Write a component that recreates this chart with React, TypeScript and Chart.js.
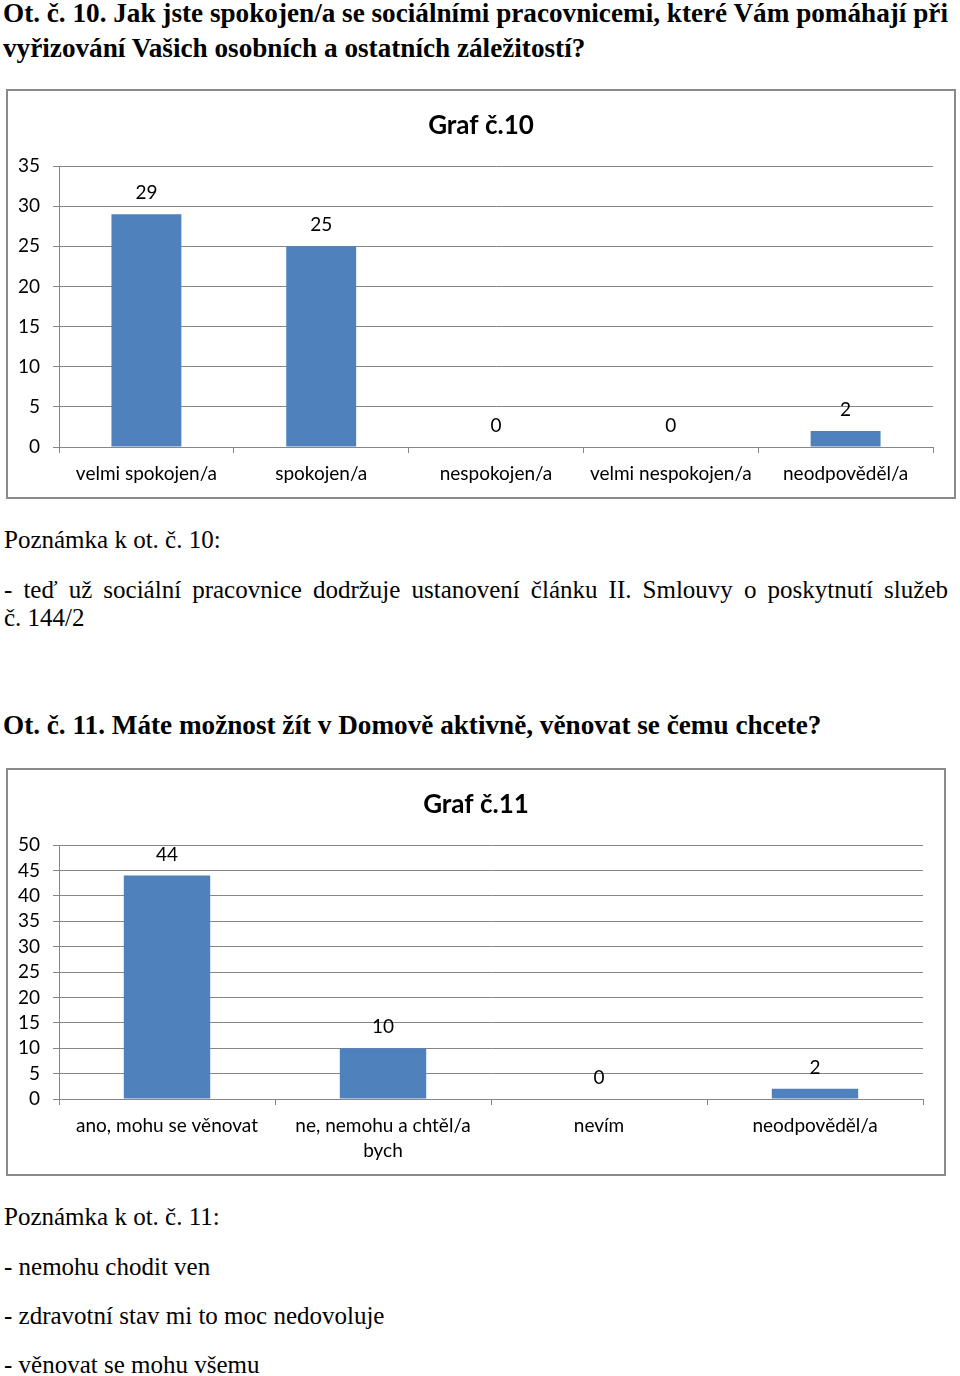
import React, { useEffect, useRef } from 'react';
import { Chart, registerables } from 'chart.js';

Chart.register(...registerables);

// ---- Data ----
const categories10: (string | string[])[] = [
  'velmi spokojen/a',
  'spokojen/a',
  'nespokojen/a',
  'velmi nespokojen/a',
  'neodpověděl/a',
];
const values10 = [29, 25, 0, 0, 2];
const yMax10 = 35;

const categories11: (string | string[])[] = [
  'ano, mohu se věnovat',
  ['ne, nemohu a chtěl/a', 'bych'],
  'nevím',
  'neodpověděl/a',
];
const values11 = [44, 10, 0, 2];
const yMax11 = 50;

const yStep = 5;

const BAR = '#4F81BD';
const GRID = '#868686';
const SANS = 'Lato, "Noto Sans", sans-serif';
const SERIF = '"Liberation Serif", "Times New Roman", serif';

const valueLabels = {
  id: 'valueLabels',
  afterDatasetsDraw(chart: any) {
    const ctx = chart.ctx;
    const meta = chart.getDatasetMeta(0);
    const data = chart.data.datasets[0].data;
    ctx.save();
    ctx.font = '19px ' + SANS;
    ctx.fillStyle = '#000';
    ctx.textAlign = 'center';
    ctx.textBaseline = 'middle';
    meta.data.forEach((bar: any, i: number) => {
      ctx.fillText(String(data[i]), bar.x, bar.y - 21);
    });
    ctx.restore();
  },
};

type BarProps = {
  left: number;
  top: number;
  width: number;
  height: number;
  title: string;
  labels: (string | string[])[];
  values: number[];
  max: number;
  yWidth: number;
  rightWidth: number;
  xHeight: number;
};

function BarChart(p: BarProps) {
  const ref = useRef<HTMLCanvasElement | null>(null);
  useEffect(() => {
    if (!ref.current) return;
    const chart = new Chart(ref.current, {
      type: 'bar',
      data: {
        labels: p.labels,
        datasets: [
          {
            data: p.values,
            backgroundColor: BAR,
            borderWidth: 0,
            barPercentage: 0.4,
            categoryPercentage: 1,
            yAxisID: 'y',
          },
        ],
      },
      options: {
        responsive: false,
        animation: false,
        devicePixelRatio: 1,
        layout: { padding: 0 },
        plugins: {
          legend: { display: false },
          tooltip: { enabled: false },
          title: {
            display: true,
            text: p.title,
            color: '#000',
            font: { family: SANS, size: 26, weight: 'bold', lineHeight: 1.2 },
            padding: { top: 21.4, bottom: 24.4 },
          },
        },
        scales: {
          x: {
            grid: {
              display: true,
              drawOnChartArea: false,
              drawTicks: true,
              tickLength: 6,
              color: GRID,
              offset: true,
            },
            border: { display: true, color: GRID, width: 1 },
            ticks: {
              color: '#000',
              font: { family: SANS, size: 19, lineHeight: 1.32 },
              padding: 8,
              maxRotation: 0,
              autoSkip: false,
            },
            afterFit(scale: any) {
              scale.height = p.xHeight;
            },
          },
          y: {
            min: 0,
            max: p.max,
            grid: { color: GRID, tickLength: 6, drawTicks: true },
            border: { display: true, color: GRID, width: 1 },
            ticks: {
              stepSize: yStep,
              autoSkip: false,
              color: '#000',
              font: { family: SANS, size: 19 },
              padding: 13,
            },
            afterFit(scale: any) {
              scale.width = p.yWidth;
            },
          },
          yR: {
            type: 'linear',
            position: 'right',
            display: true,
            grid: { display: false },
            border: { display: false },
            ticks: { display: false },
            afterFit(scale: any) {
              scale.width = p.rightWidth;
            },
          },
        },
      },
      plugins: [valueLabels],
    } as any);
    return () => chart.destroy();
  }, []);
  return (
    <>
      <canvas
        ref={ref}
        width={p.width}
        height={p.height}
        style={{ position: 'absolute', left: p.left, top: p.top, width: p.width, height: p.height }}
      />
      <div
        style={{
          position: 'absolute',
          left: p.left,
          top: p.top,
          width: p.width,
          height: p.height,
          boxSizing: 'border-box',
          border: '2px solid #8a8a8a',
          pointerEvents: 'none',
        }}
      />
    </>
  );
}

function Line(props: { top: number; left?: number; size: number; bold?: boolean; justify?: boolean; children: React.ReactNode }) {
  const style: React.CSSProperties = {
    position: 'absolute',
    top: props.top,
    left: props.left ?? 4,
    fontFamily: SERIF,
    fontSize: props.size,
    lineHeight: props.size + 'px',
    fontWeight: props.bold ? 'bold' : 'normal',
    color: '#000',
    whiteSpace: props.justify ? 'normal' : 'pre',
  };
  if (props.justify) {
    style.width = 944;
    style.textAlign = 'justify';
    (style as any).textAlignLast = 'justify';
  }
  return <div style={style}>{props.children}</div>;
}

export default function App() {
  return (
    <div style={{ position: 'absolute', left: 0, top: 0, width: 960, height: 1376, background: '#fff' }}>
      <Line top={0} left={3} size={27.2} bold>
        Ot. č. 10. Jak jste spokojen/a se sociálními pracovnicemi, které Vám pomáhají při
      </Line>
      <Line top={35} left={3} size={27.2} bold>
        vyřizování Vašich osobních a ostatních záležitostí?
      </Line>

      <BarChart
        left={6}
        top={89}
        width={950}
        height={410}
        title="Graf č.10"
        labels={categories10}
        values={values10}
        max={yMax10}
        yWidth={53}
        rightWidth={23}
        xHeight={52}
      />

      <Line top={527} size={25}>Poznámka k ot. č. 10:</Line>
      <Line top={577} size={25} justify>
        - teď už sociální pracovnice dodržuje ustanovení článku II. Smlouvy o poskytnutí služeb
      </Line>
      <Line top={605} size={25}>č. 144/2</Line>

      <Line top={712} left={3} size={27.2} bold>
        Ot. č. 11. Máte možnost žít v Domově aktivně, věnovat se čemu chcete?
      </Line>

      <BarChart
        left={6}
        top={768}
        width={940}
        height={408}
        title="Graf č.11"
        labels={categories11}
        values={values11}
        max={yMax11}
        yWidth={53}
        rightWidth={23}
        xHeight={77}
      />

      <Line top={1204} size={25}>Poznámka k ot. č. 11:</Line>
      <Line top={1254} size={25}>- nemohu chodit ven</Line>
      <Line top={1303} size={25}>- zdravotní stav mi to moc nedovoluje</Line>
      <Line top={1352} size={25}>- věnovat se mohu všemu</Line>
    </div>
  );
}
